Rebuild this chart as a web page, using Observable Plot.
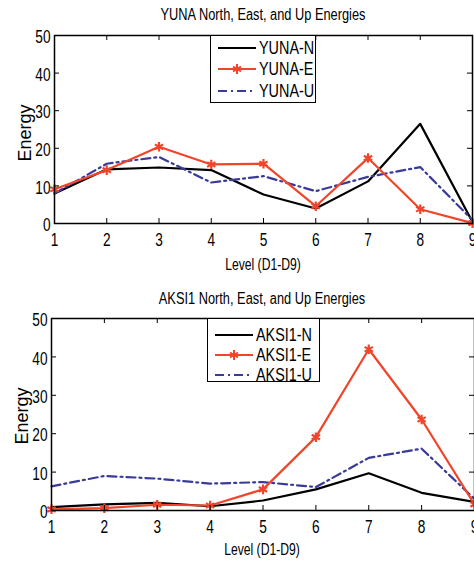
<!DOCTYPE html>
<html><head><meta charset="utf-8">
<script src="https://cdn.jsdelivr.net/npm/d3@7"></script>
<script src="https://cdn.jsdelivr.net/npm/@observablehq/plot@0.6"></script>
<style>
body{margin:0;background:#fff;}
#wrap{position:relative;width:474px;height:568px;overflow:hidden;font-family:"Liberation Sans",Arial,sans-serif;color:#000;}
.abs{position:absolute;white-space:nowrap;}
.title{font-size:16px;transform:translateX(-50%) scaleX(0.8);line-height:20px;}
.xlab{font-size:16px;transform:translateX(-50%) scaleX(0.76);line-height:20px;}
.ylab{font-size:18px;transform:translate(-50%,-50%) rotate(-90deg);line-height:20px;}
.legend{background:#fff;border:1.5px solid #000;box-sizing:border-box;}
.legend .row{position:absolute;left:6px;height:20px;display:flex;align-items:center;font-size:18px;}
.legend .row svg{margin-right:2px;flex:none;}
.legend .row span{display:inline-block;transform:scaleX(0.8);transform-origin:left center;}
</style></head>
<body><div id="wrap"></div>
<script>
const levels = [1, 2, 3, 4, 5, 6, 7, 8, 9];
const yunaN = [8.0, 14.4, 14.9, 14.2, 7.7, 4.0, 11.2, 26.5, 0.4];
const yunaE = [9.1, 14.2, 20.4, 15.7, 15.9, 4.6, 17.4, 3.8, 0.1];
const yunaU = [8.0, 15.9, 17.7, 10.9, 12.6, 8.6, 12.4, 15.0, 0.9];
const aksiN = [0.9, 1.6, 2.0, 1.1, 2.6, 5.5, 9.7, 4.6, 2.2];
const aksiE = [0.3, 0.6, 1.5, 1.3, 5.5, 19.1, 42.0, 23.7, 1.6];
const aksiU = [6.3, 9.0, 8.3, 7.0, 7.4, 6.1, 13.7, 16.1, 3.0];
const xTicks = [1, 2, 3, 4, 5, 6, 7, 8, 9];
const yTicks = [0, 10, 20, 30, 40, 50];
const yunaNames = ["YUNA-N", "YUNA-E", "YUNA-U"];
const aksiNames = ["AKSI1-N", "AKSI1-E", "AKSI1-U"];
const titles = ["YUNA North, East, and Up Energies", "AKSI1 North, East, and Up Energies"];
const xLabel = "Level (D1-D9)";
const yLabel = "Energy";

const colN = "#000000", colE = "#f0452a", colU = "#3a3a9a";
const dashU = "9,4,2,4";
const FONT = '"Liberation Sans",Arial,sans-serif';

function panel(N, E, U, m) {
  const rows = arr => levels.map((x, i) => ({x, y: arr[i]}));
  const ph = m.height - m.top - m.bottom;
  const pw = 474 - m.left - m.right;
  const svg = Plot.plot({
    width: 474, height: m.height,
    marginLeft: m.left, marginRight: m.right, marginTop: m.top, marginBottom: m.bottom,
    x: {domain: [1, 9]}, y: {domain: [0, 50]},
    style: {fontFamily: FONT, fontSize: "18px", color: "#000", background: "transparent", overflow: "visible"},
    marks: [
      Plot.lineY(rows(N), {x: "x", y: "y", stroke: colN, strokeWidth: 2.2}),
      Plot.lineY(rows(U), {x: "x", y: "y", stroke: colU, strokeWidth: 2.2, strokeDasharray: dashU}),
      Plot.lineY(rows(E), {x: "x", y: "y", stroke: colE, strokeWidth: 2.2}),
      Plot.dot(rows(E), {x: "x", y: "y", symbol: "asterisk", stroke: colE, r: 4.5, strokeWidth: 2.2}),
      Plot.tickX(xTicks, {x: d => d, insetTop: ph - 5, stroke: "#000"}),
      Plot.tickX(xTicks, {x: d => d, insetBottom: ph - 5, stroke: "#000"}),
      Plot.tickY(yTicks, {y: d => d, insetRight: pw - 5, stroke: "#000"}),
      Plot.tickY(yTicks, {y: d => d, insetLeft: pw - 5, stroke: "#000"}),
      Plot.frame({stroke: "#000", strokeWidth: 1.5}),
      Plot.axisX(xTicks, {tickSize: 0, tickPadding: 10, label: null, fontSize: 18}),
      Plot.axisY(yTicks, {tickSize: 0, tickPadding: 4, dy: 2, label: null, fontSize: 18})
    ]
  });
  // condensed look for tick labels
  svg.querySelectorAll('g[aria-label="x-axis tick label"] text, g[aria-label="y-axis tick label"] text').forEach(t => {
    const tr = t.getAttribute("transform") || "";
    t.setAttribute("transform", tr + " scale(0.76,1)");
  });
  return svg;
}

function legend(names, box, rowsY) {
  const d = document.createElement("div");
  d.className = "abs legend";
  Object.assign(d.style, {left: box.x + "px", top: box.y + "px", width: box.w + "px", height: box.h + "px"});
  const styles = [
    {stroke: colN, dash: null, star: false},
    {stroke: colE, dash: null, star: true},
    {stroke: colU, dash: dashU, star: false}
  ];
  names.forEach((name, i) => {
    const r = document.createElement("div");
    r.className = "row";
    r.style.top = (rowsY[i] - box.y - 10) + "px";
    const s = styles[i];
    r.innerHTML = `<svg width="40" height="20"><line x1="1" x2="39" y1="10" y2="10" stroke="${s.stroke}" stroke-width="2.2" ${s.dash ? `stroke-dasharray="${s.dash}"` : ""}/>` +
      (s.star ? `<g stroke="${s.stroke}" stroke-width="2"><line x1="20" x2="20" y1="5" y2="15"/><line x1="16" x2="24" y1="7.5" y2="12.5"/><line x1="16" x2="24" y1="12.5" y2="7.5"/></g>` : "") +
      `</svg><span>${name}</span>`;
    d.appendChild(r);
  });
  return d;
}

const wrap = document.getElementById("wrap");
function place(el, x, y) { el.classList.add("abs"); el.style.left = x + "px"; el.style.top = y + "px"; wrap.appendChild(el); return el; }
function text(cls, str, x, y) { const t = document.createElement("div"); t.className = cls; t.textContent = str; return place(t, x, y); }

const p1 = panel(yunaN, yunaE, yunaU, {height: 280, top: 35, bottom: 57, left: 54, right: 2});
place(p1, 0, 0);
const p2 = panel(aksiN, aksiE, aksiU, {height: 283, top: 33, bottom: 58, left: 51, right: 0});
place(p2, 0, 285);

text("title", titles[0], 263, 5);
text("title", titles[1], 262, 289);
text("xlab", xLabel, 263, 255);
text("xlab", xLabel, 262, 540);
text("ylab", yLabel, 25, 133);
text("ylab", yLabel, 22, 416);

wrap.appendChild(legend(yunaNames, {x: 210, y: 35, w: 106, h: 68}, [47, 68, 90]));
wrap.appendChild(legend(aksiNames, {x: 207, y: 318, w: 113, h: 64}, [334, 354, 374]));
</script>
</body></html>
